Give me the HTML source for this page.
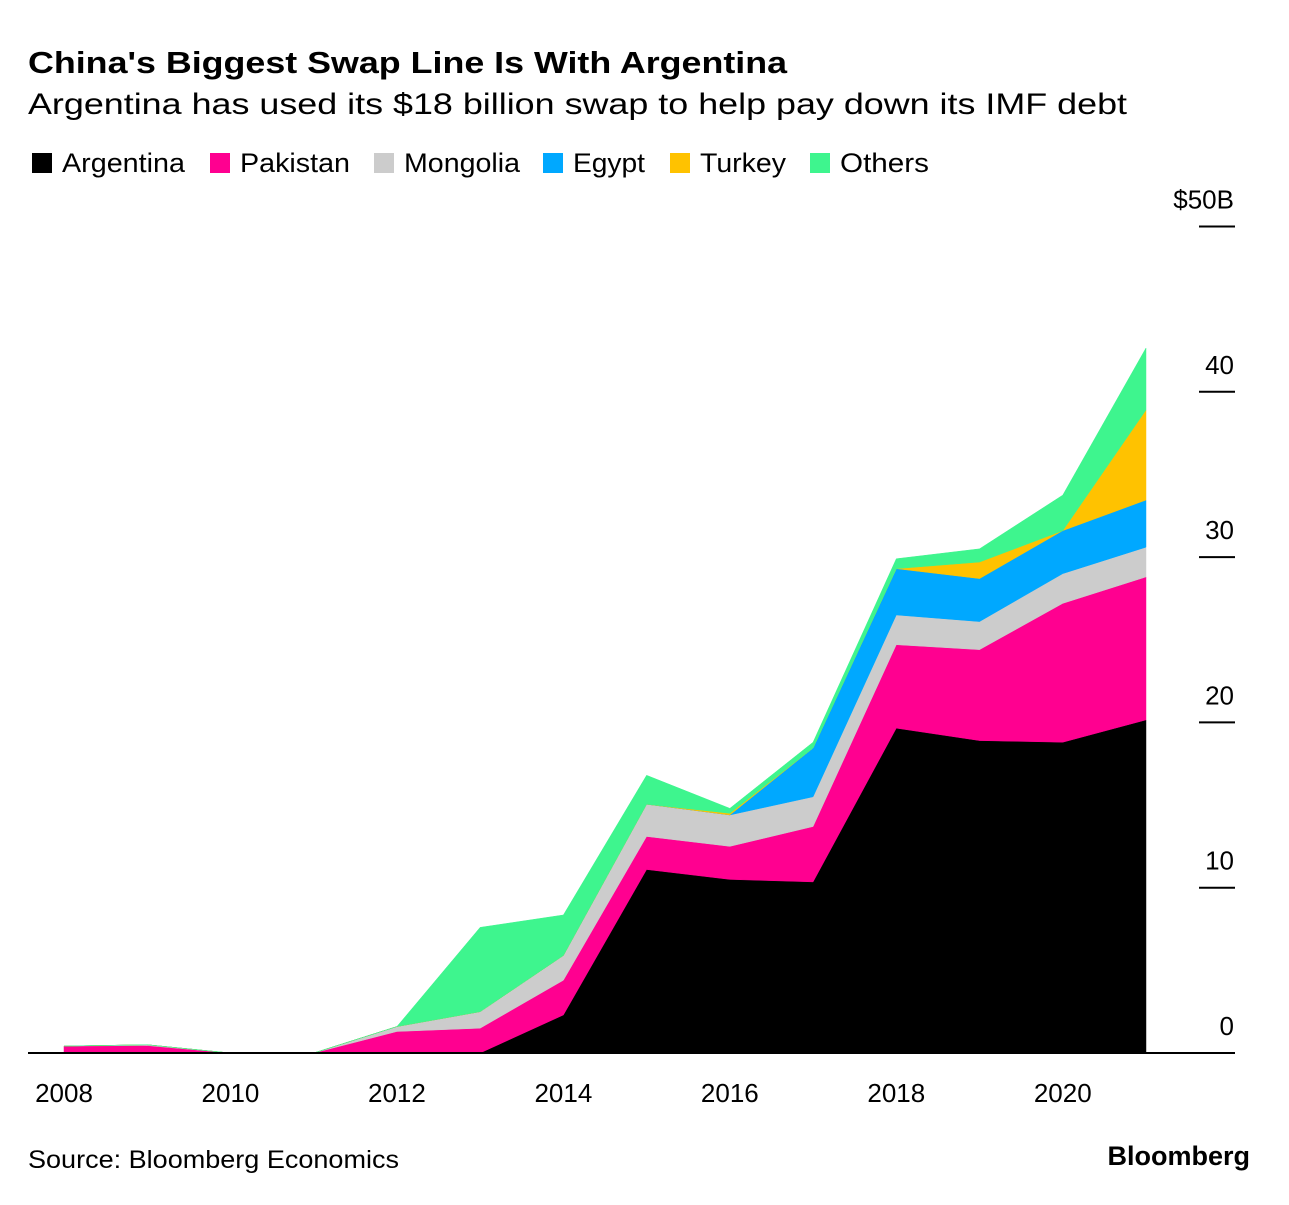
<!DOCTYPE html>
<html><head><meta charset="utf-8"><style>
body{margin:0;background:#fff;font-family:"Liberation Sans",sans-serif;}
#wrap{position:relative;width:1289px;height:1200px;}
</style></head><body>
<div id="wrap">
<svg id="svg" width="1289" height="1200"></svg>
</div>
<script>
const years=[2008,2009,2010,2011,2012,2013,2014,2015,2016,2017,2018,2019,2020,2021];
const argentina=[0,0,0,0,0,0,2.3,11.1,10.5,10.35,19.65,18.9,18.8,20.15];
const pakistan=[0.42,0.45,0,0,1.3,1.5,2.1,2.0,2.0,3.35,5.05,5.5,8.4,8.65];
const mongolia=[0,0.05,0,0,0.3,1.0,1.5,1.95,1.9,1.8,1.8,1.7,1.8,1.8];
const egypt=[0,0,0,0,0,0,0,0,0,2.95,2.8,2.6,2.6,2.85];
const turkey=[0,0,0,0,0,0,0,0,0.1,0,0,1.0,0,5.45];
const others=[0,0,0,0,0,5.1,2.45,1.75,0.3,0.35,0.6,0.8,2.15,3.75];
const seriesNames=["Argentina","Pakistan","Mongolia","Egypt","Turkey","Others"];
const seriesData=[argentina,pakistan,mongolia,egypt,turkey,others];
const colors=["#000000","#ff0090","#cccccc","#00a8ff","#ffc200","#3ef58e"];
const yTicks=[0,10,20,30,40,50];
const yTickLabels=["0","10","20","30","40","$50B"];
const xTicks=[2008,2010,2012,2014,2016,2018,2020];

const NS="http://www.w3.org/2000/svg";
const svg=document.getElementById('svg');
const x=y=>64+(y-2008)*83.23;
const yS=v=>1053-v*16.53;
function mk(tag,attrs,parent){const e=document.createElementNS(NS,tag);for(const k in attrs)e.setAttribute(k,attrs[k]);(parent||svg).appendChild(e);return e;}
function txt(s,attrs){const t=mk('text',attrs);t.textContent=s;return t;}

let t=txt("China's Biggest Swap Line Is With Argentina",{x:28,y:73,'font-size':31,'font-weight':'bold',fill:'#000',textLength:759,lengthAdjust:'spacingAndGlyphs'});


t=txt("Argentina has used its $18 billion swap to help pay down its IMF debt",{x:28,y:114,'font-size':30,fill:'#000',textLength:1099,lengthAdjust:'spacingAndGlyphs'});



// legend
const legX=[32,210,374,543,670,810];
const legW=[123,110,116,72,86,89];
seriesNames.forEach((n,i)=>{
  const g=mk('g',{});
  
  
  mk('rect',{x:legX[i],y:153,width:20,height:20,fill:colors[i]},g);
  const tt=mk('text',{x:legX[i]+30,y:172,'font-size':27,fill:'#000',textLength:legW[i],lengthAdjust:'spacingAndGlyphs'},g);tt.textContent=n;
});

// areas
let base=years.map(()=>0);
seriesData.forEach((d,i)=>{
  const top=base.map((b,j)=>b+d[j]);
  let pts=years.map((yr,j)=>x(yr)+','+yS(top[j]));
  for(let j=years.length-1;j>=0;j--)pts.push(x(years[j])+','+yS(base[j]));
  const p=mk('polygon',{points:pts.join(' '),fill:colors[i],stroke:colors[i],'stroke-width':0.5});
  
  
  base=top;
});

const bl=mk('line',{x1:28,x2:1235,y1:yS(0),y2:yS(0),stroke:'#000','stroke-width':2});



yTicks.forEach((v,i)=>{
  if(v>0){const l=mk('line',{x1:1199,x2:1235,y1:yS(v),y2:yS(v),stroke:'#000','stroke-width':2});
  
  }
  const tl=txt(yTickLabels[i],{x:1234,y:yS(v)-18,'font-size':26,'text-anchor':'end',fill:'#000'});
  
  
});
xTicks.forEach(yr=>{
  const tl=txt(String(yr),{x:x(yr),y:1102,'font-size':26,'text-anchor':'middle',fill:'#000'});
  
  
});

t=txt("Source: Bloomberg Economics",{x:28,y:1168,'font-size':25,fill:'#000',textLength:371,lengthAdjust:'spacingAndGlyphs'});


t=txt("Bloomberg",{x:1250,y:1165,'font-size':27,'font-weight':'bold','text-anchor':'end',fill:'#000'});


</script>
</body></html>
